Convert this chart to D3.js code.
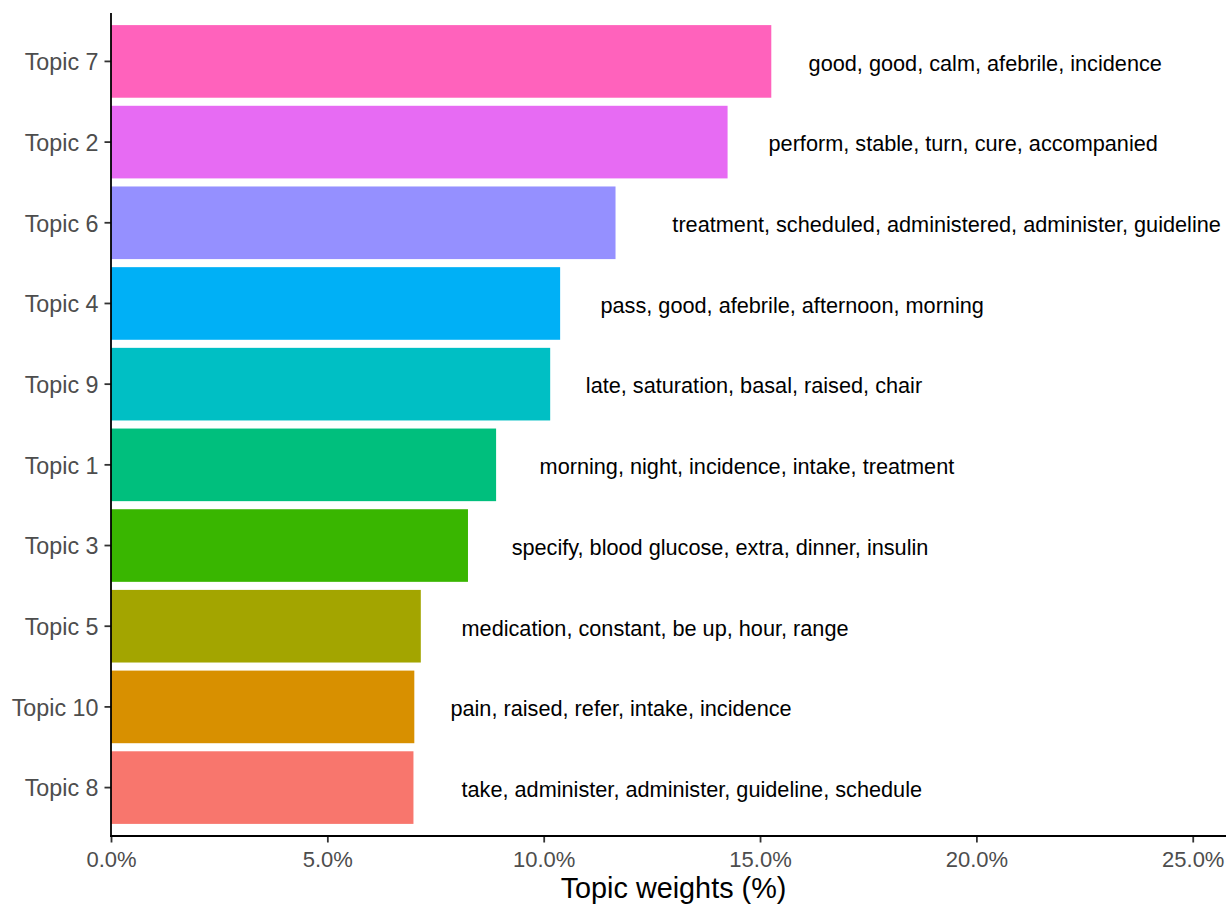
<!DOCTYPE html>
<html>
<head>
<meta charset="utf-8">
<script src="https://cdn.jsdelivr.net/npm/d3@7"></script>
<style>
  html, body { margin: 0; padding: 0; background: #ffffff; }
  svg { display: block; }
  text { font-family: "Liberation Sans", Arial, sans-serif; }
</style>
</head>
<body>
<svg id="chart" width="1226" height="904"></svg>
<script>
// Topics, ordered from largest to smallest weight (top to bottom)
const topics = ["Topic 7", "Topic 2", "Topic 6", "Topic 4", "Topic 9",
                "Topic 1", "Topic 3", "Topic 5", "Topic 10", "Topic 8"];
// Topic weight in percent
const weights = [15.26, 14.25, 11.66, 10.38, 10.15, 8.90, 8.25, 7.16, 7.01, 6.99];
// Top five terms of each topic
const terms = [
  "good, good, calm, afebrile, incidence",
  "perform, stable, turn, cure, accompanied",
  "treatment, scheduled, administered, administer, guideline",
  "pass, good, afebrile, afternoon, morning",
  "late, saturation, basal, raised, chair",
  "morning, night, incidence, intake, treatment",
  "specify, blood glucose, extra, dinner, insulin",
  "medication, constant, be up, hour, range",
  "pain, raised, refer, intake, incidence",
  "take, administer, administer, guideline, schedule"
];
const xTicks = [0, 5, 10, 15, 20, 25];
const xTitle = "Topic weights (%)";
// Default ggplot hue palette, one colour per topic
const colors = ["#FF62BC", "#E76BF3", "#9590FF", "#00B0F6", "#00BFC4",
                "#00BF7D", "#39B600", "#A3A500", "#D89000", "#F8766D"];

const rows = topics.map((t, i) => ({ topic: t, weight: weights[i], terms: terms[i], color: colors[i] }));

const svg = d3.select("#chart");
const panel = { left: 111, right: 1236, top: 13, bottom: 836 };

const x = d3.scaleLinear().domain([0, 26]).range([panel.left, panel.right]);
const y = d3.scaleBand().domain(topics).range([panel.top, panel.bottom])
  .paddingInner(0.1).paddingOuter(0.15);

// Bars
svg.append("g").selectAll("rect").data(rows).join("rect")
  .attr("x", x(0))
  .attr("y", d => y(d.topic))
  .attr("width", d => x(d.weight) - x(0))
  .attr("height", y.bandwidth())
  .attr("fill", d => d.color);

// Term labels, left-aligned just past each bar end (offset of 10% of text width)
const labels = svg.append("g").selectAll("text").data(rows).join("text")
  .attr("y", d => y(d.topic) + y.bandwidth() / 2 + 9.3)
  .attr("font-size", "21.7px")
  .attr("fill", "#000000")
  .text(d => d.terms);
labels.each(function(d) {
  const w = this.getComputedTextLength();
  d3.select(this).attr("x", x(d.weight) + 0.1 * w + 2);
});

// Y axis
const yAxis = svg.append("g")
  .attr("transform", `translate(${panel.left},0)`)
  .call(d3.axisLeft(y).tickSize(6.5).tickPadding(6));
yAxis.select(".domain").remove();
yAxis.selectAll(".tick line").attr("stroke", "#333333").attr("stroke-width", 1.8);
yAxis.selectAll(".tick text")
  .attr("font-size", "23.3px").attr("fill", "#4D4D4D")
  .attr("font-family", "Liberation Sans, Arial, sans-serif")
  .attr("dy", "0.38em");

// X axis
const xAxis = svg.append("g")
  .attr("transform", `translate(0,${panel.bottom})`)
  .call(d3.axisBottom(x).tickValues(xTicks).tickFormat(d => d.toFixed(1) + "%")
    .tickSize(6.5).tickPadding(8.5));
xAxis.select(".domain").remove();
xAxis.selectAll(".tick line").attr("stroke", "#333333").attr("stroke-width", 1.8);
xAxis.selectAll(".tick text")
  .attr("font-size", "22px").attr("fill", "#4D4D4D")
  .attr("font-family", "Liberation Sans, Arial, sans-serif");

// Axis lines (classic theme)
svg.append("line")
  .attr("x1", panel.left).attr("x2", panel.left)
  .attr("y1", panel.top).attr("y2", panel.bottom + 0.9)
  .attr("stroke", "#000000").attr("stroke-width", 1.8);
svg.append("line")
  .attr("x1", panel.left - 0.9).attr("x2", panel.right)
  .attr("y1", panel.bottom).attr("y2", panel.bottom)
  .attr("stroke", "#000000").attr("stroke-width", 1.8);

// X axis title
svg.append("text")
  .attr("x", (panel.left + panel.right) / 2)
  .attr("y", 898)
  .attr("text-anchor", "middle")
  .attr("font-size", "28.8px")
  .attr("fill", "#000000")
  .text(xTitle);
</script>
</body>
</html>
